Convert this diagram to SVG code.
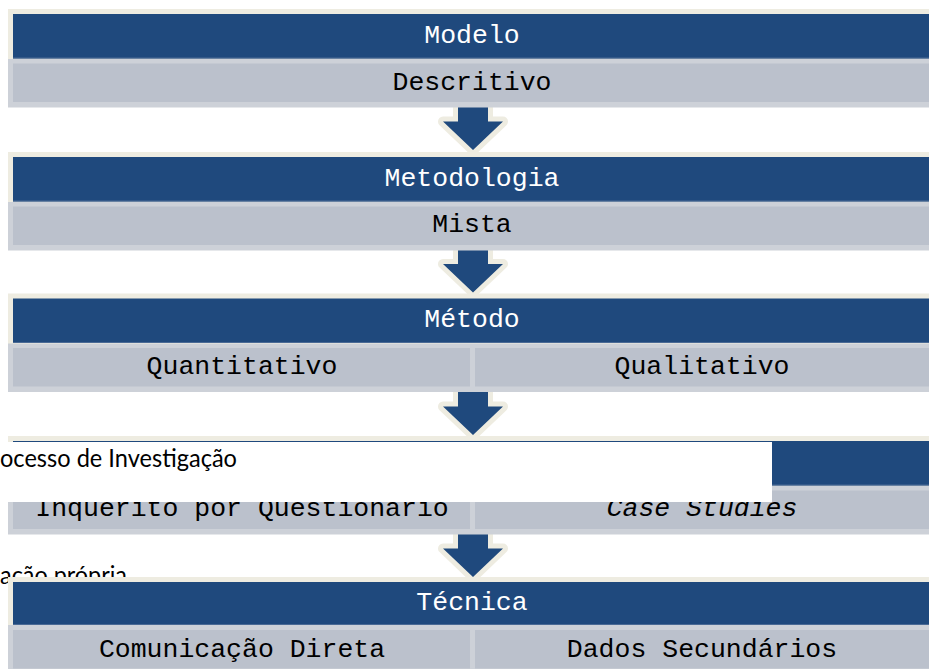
<svg xmlns="http://www.w3.org/2000/svg" xmlns:xlink="http://www.w3.org/1999/xlink" width="929" height="669" viewBox="0 0 929 669">
<defs>
<style>
.frame{fill:#EEECE1}
.dark{fill:#1F497D}
.darkline{fill:#4A6A95}
.strip{fill:#CDD1D8}
.light{fill:#BBC1CC}
.title{font-family:"Liberation Mono","Courier New",monospace;font-size:26.5px;fill:#FFFFFF;text-anchor:middle}
.sub{font-family:"Liberation Mono","Courier New",monospace;font-size:26.5px;fill:#000000;text-anchor:middle}
.cap{font-family:Lato,"Liberation Sans",sans-serif;font-size:25px;fill:#000000}
.arrOut{fill:#EEECE1;stroke:#EEECE1;stroke-width:10;stroke-linejoin:round}
.arrIn{fill:#1F497D}
</style>
<path id="arr" d="M -15,-50 L 15,-50 L 15,-28.5 L 30,-28.5 L 0,0 L -30,-28.5 L -15,-28.5 Z"/>
</defs>
<rect width="929" height="669" fill="#FFFFFF"/>

<g id="connectors">
  <g transform="translate(473,150)"><use xlink:href="#arr" href="#arr" class="arrOut"/><use xlink:href="#arr" href="#arr" class="arrIn"/></g>
  <g transform="translate(473,292.5)"><use xlink:href="#arr" href="#arr" class="arrOut"/><use xlink:href="#arr" href="#arr" class="arrIn"/></g>
  <g transform="translate(473,435)"><use xlink:href="#arr" href="#arr" class="arrOut"/><use xlink:href="#arr" href="#arr" class="arrIn"/></g>
  <g transform="translate(473,577)"><use xlink:href="#arr" href="#arr" class="arrOut"/><use xlink:href="#arr" href="#arr" class="arrIn"/></g>
</g>

<g id="modelo" transform="translate(0,14)">
  <rect class="frame" x="8" y="-5" width="930" height="52"/>
  <rect class="dark" x="13" y="0" width="925" height="44.5"/>
  <rect class="darkline" x="13" y="43.5" width="925" height="1"/>
  <rect class="strip" x="8" y="45" width="930" height="48.5"/>
  <rect class="light" x="13" y="49.5" width="925" height="38.5"/>
  <text class="title" x="472" y="29">Modelo</text>
  <text class="sub" x="472" y="76">Descritivo</text>
</g>

<g id="metodologia" transform="translate(0,157)">
  <rect class="frame" x="8" y="-5" width="930" height="52"/>
  <rect class="dark" x="13" y="0" width="925" height="44.5"/>
  <rect class="darkline" x="13" y="43.5" width="925" height="1"/>
  <rect class="strip" x="8" y="45" width="930" height="48.5"/>
  <rect class="light" x="13" y="49.5" width="925" height="38.5"/>
  <text class="title" x="472" y="28.5">Metodologia</text>
  <text class="sub" x="472" y="75">Mista</text>
</g>

<g id="metodo" transform="translate(0,298.5)">
  <rect class="frame" x="8" y="-5" width="930" height="52"/>
  <rect class="dark" x="13" y="0" width="925" height="44.5"/>
  <rect class="darkline" x="13" y="43.5" width="925" height="1"/>
  <rect class="strip" x="8" y="45" width="930" height="48.5"/>
  <rect class="light" x="13" y="49.5" width="457" height="38.5"/>
  <rect class="light" x="475" y="49.5" width="463" height="38.5"/>
  <text class="title" x="472" y="28.5">Método</text>
  <text class="sub" x="242" y="75">Quantitativo</text>
  <text class="sub" x="702" y="75">Qualitativo</text>
</g>

<g id="estrategia" transform="translate(0,441)">
  <rect class="frame" x="8" y="-5" width="930" height="52"/>
  <rect class="dark" x="13" y="0" width="925" height="44.5"/>
  <rect class="darkline" x="13" y="43.5" width="925" height="1"/>
  <rect class="strip" x="8" y="45" width="930" height="48.5"/>
  <rect class="light" x="13" y="49.5" width="457" height="38.5"/>
  <rect class="light" x="475" y="49.5" width="463" height="38.5"/>
  <text class="sub" x="242" y="74.5">Inquerito por Questionario</text>
  <text class="sub" x="702" y="74.5" font-style="italic">Case Studies</text>
</g>

<g id="caption">
  <rect x="0" y="442" width="772" height="60" fill="#FFFFFF"/>
  <text class="cap" x="0" y="467" textLength="237" lengthAdjust="spacingAndGlyphs">ocesso de Investigação</text>
</g>

<g id="fonte">
  <text class="cap" x="0" y="584" textLength="127" lengthAdjust="spacingAndGlyphs">ação própria</text>
</g>

<g id="tecnica" transform="translate(0,582)">
  <rect class="frame" x="8" y="-5" width="930" height="52"/>
  <rect class="dark" x="13" y="0" width="925" height="43"/>
  <rect class="darkline" x="13" y="42" width="925" height="1"/>
  <rect class="strip" x="8" y="43" width="930" height="48.5"/>
  <rect class="light" x="13" y="48" width="457" height="38.5"/>
  <rect class="light" x="475" y="48" width="463" height="38.5"/>
  <text class="title" x="472" y="28">Técnica</text>
  <text class="sub" x="242" y="75">Comunicação Direta</text>
  <text class="sub" x="702" y="75">Dados Secundários</text>
</g>
</svg>
